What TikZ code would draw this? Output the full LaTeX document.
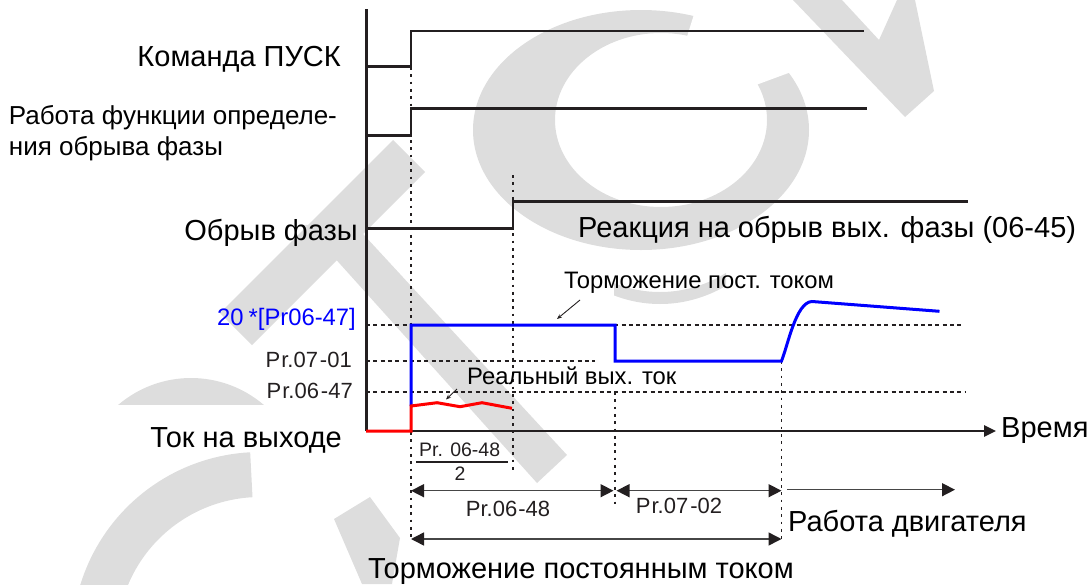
\documentclass[tikz,border=0pt]{standalone}
\usepackage{fontspec}
\setmainfont{Liberation Sans}
\usetikzlibrary{arrows.meta}
\definecolor{wm}{RGB}{221,221,221}
\definecolor{ink}{RGB}{35,31,32}
\definecolor{dimc}{RGB}{70,70,70}
\definecolor{bl}{RGB}{0,0,255}
\definecolor{rd}{RGB}{255,0,0}
\begin{document}
\begin{tikzpicture}[x=1pt,y=-1pt,
  sig/.style={line width=2.5pt, draw=ink, line join=miter},
  axisline/.style={line width=3pt, draw=ink},
  vdot/.style={line width=1.8pt, draw=ink, dash pattern=on 2.7pt off 4.6pt},
  hdash/.style={line width=1.5pt, draw=ink, dash pattern=on 4pt off 3.3pt},
  tri/.tip={Triangle[length=13pt,width=13pt,fill=ink,color=ink]},
  dimboth/.style={line width=1.5pt, draw=dimc, tri-tri},
  dimright/.style={line width=1.5pt, draw=dimc, -tri},
  pointer/.style={line width=0.9pt, draw=ink, -{Stealth[length=5pt,width=4pt]}},
  lbl/.style={inner sep=0pt, text=black},
  big/.style={lbl, font=\fontsize{29}{34}\selectfont},
  mid/.style={lbl, font=\fontsize{26}{31}\selectfont},
  med/.style={lbl, font=\fontsize{23.8}{28}\selectfont},
  sml/.style={lbl, font=\fontsize{22}{26}\selectfont},
  tiny/.style={lbl, font=\fontsize{19.5}{23}\selectfont}]
\useasboundingbox (0,0) rectangle (1090,584);

% ---------- watermark ----------
\fill[wm, even odd rule] (641,130) ellipse [x radius=168pt, y radius=120pt]
                         (661,120) ellipse [x radius=106pt, y radius=87pt];
\fill[white] (661,120) -- (700,-5) -- (1000,-5) -- cycle;
\begin{scope}
  \clip (614,250) rectangle (726,320);
  \fill[wm, even odd rule] (660,130) ellipse [x radius=148pt, y radius=174pt]
                           (660,130) ellipse [x radius=140pt, y radius=162pt];
\end{scope}
\fill[wm] (793,0) -- (905,117) -- (934,91) -- (915,0) -- (897,0) -- (879,40) -- (842,0) -- cycle;
\fill[wm] (393,140) -- (425,172) -- (252,345) -- (220,313) -- cycle;
\fill[wm] (305,225) -- (352,222) -- (567,455) -- (537,483) -- cycle;
\fill[wm] plot[domain=93:165,samples=40] ({260+188*cos(\x)},{640-188*sin(\x)})
       -- plot[domain=165:93,samples=40] ({260+143*cos(\x)},{640-143*sin(\x)}) -- cycle;
\fill[wm] plot[domain=49.4:130.6,samples=40] ({191+112*cos(\x)},{490-112*sin(\x)}) -- cycle;
\fill[wm] (334,519) -- (370,497) -- (400,538) -- (392,584) -- (362,584) -- cycle;

% ---------- coordinates ----------
\coordinate (axtop) at (366,9);
\coordinate (orig) at (366,431);
\coordinate (tend) at (996,431);

% ---------- dashed reference lines ----------
\draw[hdash] (366,325) -- (962,325);
\draw[hdash] (366,361) -- (595,361);
\draw[hdash] (366,392) -- (966,392);
\draw[vdot] (411,67) -- (411,541);
\draw[vdot] (513,175) -- (513,474);
\draw[vdot] (615,392) -- (615,505);
\draw[vdot] (781.5,361) -- (781.5,541);

% ---------- axes ----------
\draw[axisline] (axtop) -- (orig);
\draw[line width=2.7pt, draw=ink, -{Triangle[length=12pt,width=11pt]}] (orig) -- (tend);

% ---------- digital signals ----------
\draw[sig] (366,66.7) -- (411,66.7) -- (411,31) -- (864,31);
\draw[sig] (366,135.7) -- (411,135.7) -- (411,108.7) -- (866.5,108.7);
\draw[sig] (366,228.3) -- (513,228.3) -- (513,201.7) -- (968,201.7);

% ---------- current curves ----------
\draw[line width=3pt, draw=bl, line join=miter]
  (411,406) -- (411,325) -- (615,325) -- (615,361) -- (781.5,361)
  .. controls (788,345) and (796,302) .. (812,301.5) -- (939.5,311.3);
\draw[line width=3pt, draw=rd, line join=miter]
  (366,431) -- (411,431) -- (411,406) -- (437,402.7) -- (460,406.7) -- (482,402.7) -- (512,408.3);

% ---------- labels ----------
\node[big, anchor=base east] (pusk) at (341,66.7) {Команда ПУСК};
\node[mid, anchor=base west] (rab1) at (8.7,124) {Работа функции определе-};
\node[mid, anchor=base west] (rab2) at (8.7,155) {ния обрыва фазы};
\node[big, anchor=base east] (obr) at (358,240) {Обрыв фазы};
\node[big, anchor=base west] (reak) at (578,237) {Реакция на обрыв вых. фазы (06-45)};
\node[med, anchor=base west] (tpt) at (564,288.3) {Торможение пост. током};
\node[med, anchor=base east, text=bl] (p20) at (356,325.3) {20\kern5pt*[Pr06-47]};
\node[sml, anchor=base east, text=ink] (p0701) at (352,367) {P\kern1pt r.07\kern2pt-01};
\node[sml, anchor=base east, text=ink] (p0647) at (353,398) {P\kern1pt r.06\kern2pt-47};
\node[med, anchor=base west] (real) at (467,384) {Реальный вых. ток};
\node[big, anchor=base east] (tok) at (342,447) {Ток на выходе};
\node[big, anchor=base west] (vrem) at (1001,437) {Время};
\node[tiny, anchor=base west, text=ink] (fnum) at (419,456) {Pr. 06-48};
\node[tiny, anchor=base, text=ink] (fden) at (460,480) {2};
\draw[line width=1.2pt, draw=ink] (416,462) -- (508,462);
\node[sml, anchor=base, text=ink] (p0648) at (508,516.7) {Pr.06\kern1pt-48};
\node[sml, anchor=base, text=ink] (p0702) at (679,513.3) {P\kern1pt r.07\kern2pt-02};
\node[big, anchor=base west] (motor) at (788,531.3) {Работа двигателя};
\node[big, anchor=base west] (tormoz) at (368,578) {Торможение постоянным током};

% ---------- pointers ----------
\coordinate (tptA) at (580,300);
\coordinate (tptB) at (557,319);
\coordinate (realA) at (457,389);
\coordinate (realB) at (446,399.5);
\draw[pointer] (tptA) -- (tptB);
\draw[pointer] (realA) -- (realB);

% ---------- dimension arrows ----------
\coordinate (d1) at (411,490.7);
\coordinate (d2) at (613.5,490.7);
\coordinate (d3) at (616.5,490.7);
\coordinate (d4) at (781.5,490.7);
\coordinate (d5) at (787,489.7);
\coordinate (d6) at (955,489.7);
\coordinate (e1) at (411,539);
\coordinate (e2) at (781.5,539);
\draw[dimboth] (d1) -- (d2);
\draw[dimboth] (d3) -- (d4);
\draw[dimright] (d5) -- (d6);
\draw[dimboth] (e1) -- (e2);
\end{tikzpicture}
\end{document}
